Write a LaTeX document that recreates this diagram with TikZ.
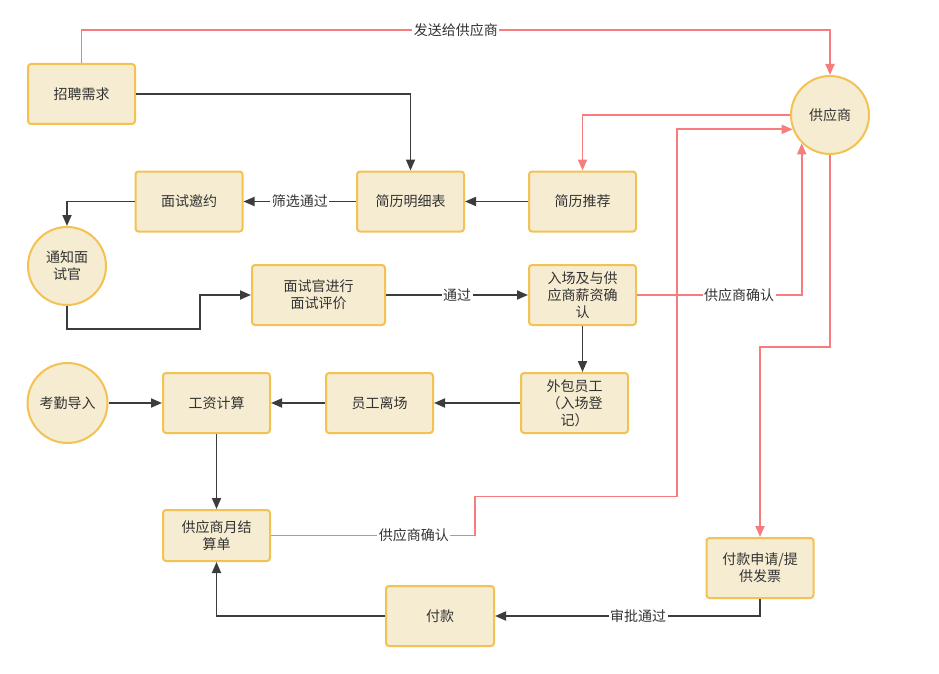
\documentclass[tikz,border=0pt]{standalone}
\usepackage{fontspec}
\setmainfont{Noto Sans CJK SC}
\usepackage{tikz}
\usetikzlibrary{arrows.meta, calc}
\usepackage{xcolor}
\definecolor{boxfill}{RGB}{245,236,209}
\definecolor{boxline}{RGB}{244,194,82}
\definecolor{redline}{RGB}{246,124,126}
\definecolor{darkline}{RGB}{60,60,60}
\definecolor{textgray}{RGB}{51,51,51}

\begin{document}
\begin{tikzpicture}[x=1pt, y=-1pt,
    every node/.style={text=textgray, font=\fontsize{14}{17}\selectfont},
    box/.style={draw=boxline, fill=boxfill, line width=2pt, rounded corners=3pt, minimum width=107pt, minimum height=60pt, align=center, inner sep=2pt},
    round/.style={draw=boxline, fill=boxfill, line width=2pt, circle, minimum size=78pt, align=center, inner sep=1pt},
    blk/.style={draw=darkline, line width=1.8pt, -{Triangle[length=11pt, width=9pt]}},
    red/.style={draw=redline, line width=1.8pt, -{Triangle[length=11pt, width=9pt]}},
    lbl/.style={fill=white, inner sep=1.5pt}]
    \useasboundingbox (0,0) rectangle (939,674);
    \node[box] (zp) at (81.5,94) {招聘需求};
    \node[box] (ys) at (189,201.5) {面试邀约};
    \node[box] (mxb) at (410.5,201.5) {简历明细表};
    \node[box] (tj) at (582.5,201.5) {简历推荐};
    \node[round] (gys) at (830,115) {供应商};
    \node[round] (tz) at (67,266) {通知面\\试官};
    \node[box, minimum width=133pt] (pj) at (318.5,295) {面试官进行\\面试评价};
    \node[box] (rc) at (582.5,295) {入场及与供\\应商薪资确\\认};
    \node[box] (wb) at (574.5,403) {外包员工\\（入场登\\记）};
    \node[box] (lc) at (379.5,403) {员工离场};
    \node[box] (gz) at (216.5,403) {工资计算};
    \node[round, minimum size=80pt] (kq) at (67.5,403) {考勤导入};
    \node[box, minimum height=51pt] (yj) at (216.5,535.5) {供应商月结\\算单};
    \node[box] (fksq) at (760,568) {付款申请/提\\供发票};
    \node[box, minimum width=108pt] (fk) at (440,616) {付款};

    \draw[red] (zp.north) -- ++(0,-33) -| node[lbl, pos=0.25] {发送给供应商} (gys.north);
    \draw[blk] (zp.east) -| (mxb.north);
    \draw[red] (gys.west) -| (tj.north);
    \draw[blk] (tj.west) -- (mxb.east);
    \draw[blk] (mxb.west) -- node[lbl] {筛选通过} (ys.east);
    \draw[blk] (ys.west) -| (tz.north);
    \draw[blk] (tz.south) -- ++(0,23) -- ++(133,0) |- (pj.west);
    \draw[blk] (pj.east) -- node[lbl] {通过} (rc.west);
    \draw[red] (rc.east) -| node[lbl, pos=0.31] {供应商确认} (gys.south west);
    \draw[blk] (rc.south) -- (rc.south |- wb.north);
    \draw[blk] (wb.west) -- (lc.east);
    \draw[blk] (lc.west) -- (gz.east);
    \draw[blk] (kq.east) -- (gz.west);
    \draw[blk] (gz.south) -- (yj.north);
    \draw[red] (yj.east) -- node[lbl, pos=0.7] {供应商确认} ++(204,0) -- ++(0,-39) -- ++(202,0) |- (gys.201);
    \draw[red] (gys.south) -- ++(0,192) -| (fksq.north);
    \draw[blk] (fksq.south) |- node[lbl, pos=0.73] {审批通过} (fk.east);
    \draw[blk] (fk.west) -| (yj.south);
\end{tikzpicture}
\end{document}
